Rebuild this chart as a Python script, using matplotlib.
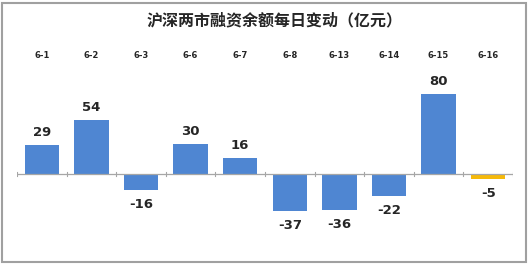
import numpy as np
import matplotlib.pyplot as plt
from matplotlib.patches import Rectangle

plt.rcParams['font.family'] = ['Noto Sans CJK SC', 'DejaVu Sans']

dates = ['6-1', '6-2', '6-3', '6-6', '6-7', '6-8', '6-13', '6-14', '6-15', '6-16']
change = [29, 54, -16, 30, 16, -37, -36, -22, 80, -5]
title = '沪深两市融资余额每日变动（亿元）'

blue = '#4F86D2'
yellow = '#F5B90A'
colors = [blue] * (len(change) - 1) + [yellow]

W, H = 528, 264
fig = plt.figure(figsize=(W / 100, H / 100), dpi=100)

# plot area in pixels: left, right, top, bottom
l, r, t, b = 17, 513, 75, 250
ax = fig.add_axes([l / W, 1 - b / H, (r - l) / W, (b - t) / H])

x = np.arange(len(dates))
ax.bar(x, change, width=0.69, color=colors, zorder=2)
ax.set_xlim(-0.5, len(dates) - 0.5)
ax.set_ylim(-76.5, 98.5)

for s in ax.spines.values():
    s.set_visible(False)
ax.axhline(0, color='#A6A6A6', lw=0.9, zorder=3)
ax.set_yticks([])
ax.set_xticks([])
for xb in np.arange(-0.5, len(dates), 1.0):
    ax.plot([xb, xb], [-2.5, 1.5], color='#A6A6A6', lw=0.8, zorder=3)

lab_font = dict(fontsize=9.5, fontweight='bold', color='#262626', family='DejaVu Sans')
for xi, v in zip(x, change):
    if v >= 0:
        ax.text(xi, v + 12, str(v), ha='center', va='center', **lab_font)
    else:
        ax.text(xi, v - 14.5, str(v), ha='center', va='center', **lab_font)

# date labels along the top
for xi, d in zip(x, dates):
    xf = (l + (xi + 0.5) * (r - l) / len(dates)) / W
    fig.text(xf, 1 - 55 / H, d, ha='center', va='center',
             fontsize=6, fontweight='bold', color='#262626', family='DejaVu Sans')

fig.text(275 / W, 1 - 20 / H, title, ha='center', va='center',
         fontsize=11.5, fontweight='bold', color='#262626')

# outer frame
fig.patches.append(Rectangle((1.5 / W, 2.5 / H), (W - 4) / W, (H - 5) / H,
                             transform=fig.transFigure, fill=False,
                             edgecolor='#A0A0A0', lw=1.5))

fig.savefig('out.png', dpi=100)
